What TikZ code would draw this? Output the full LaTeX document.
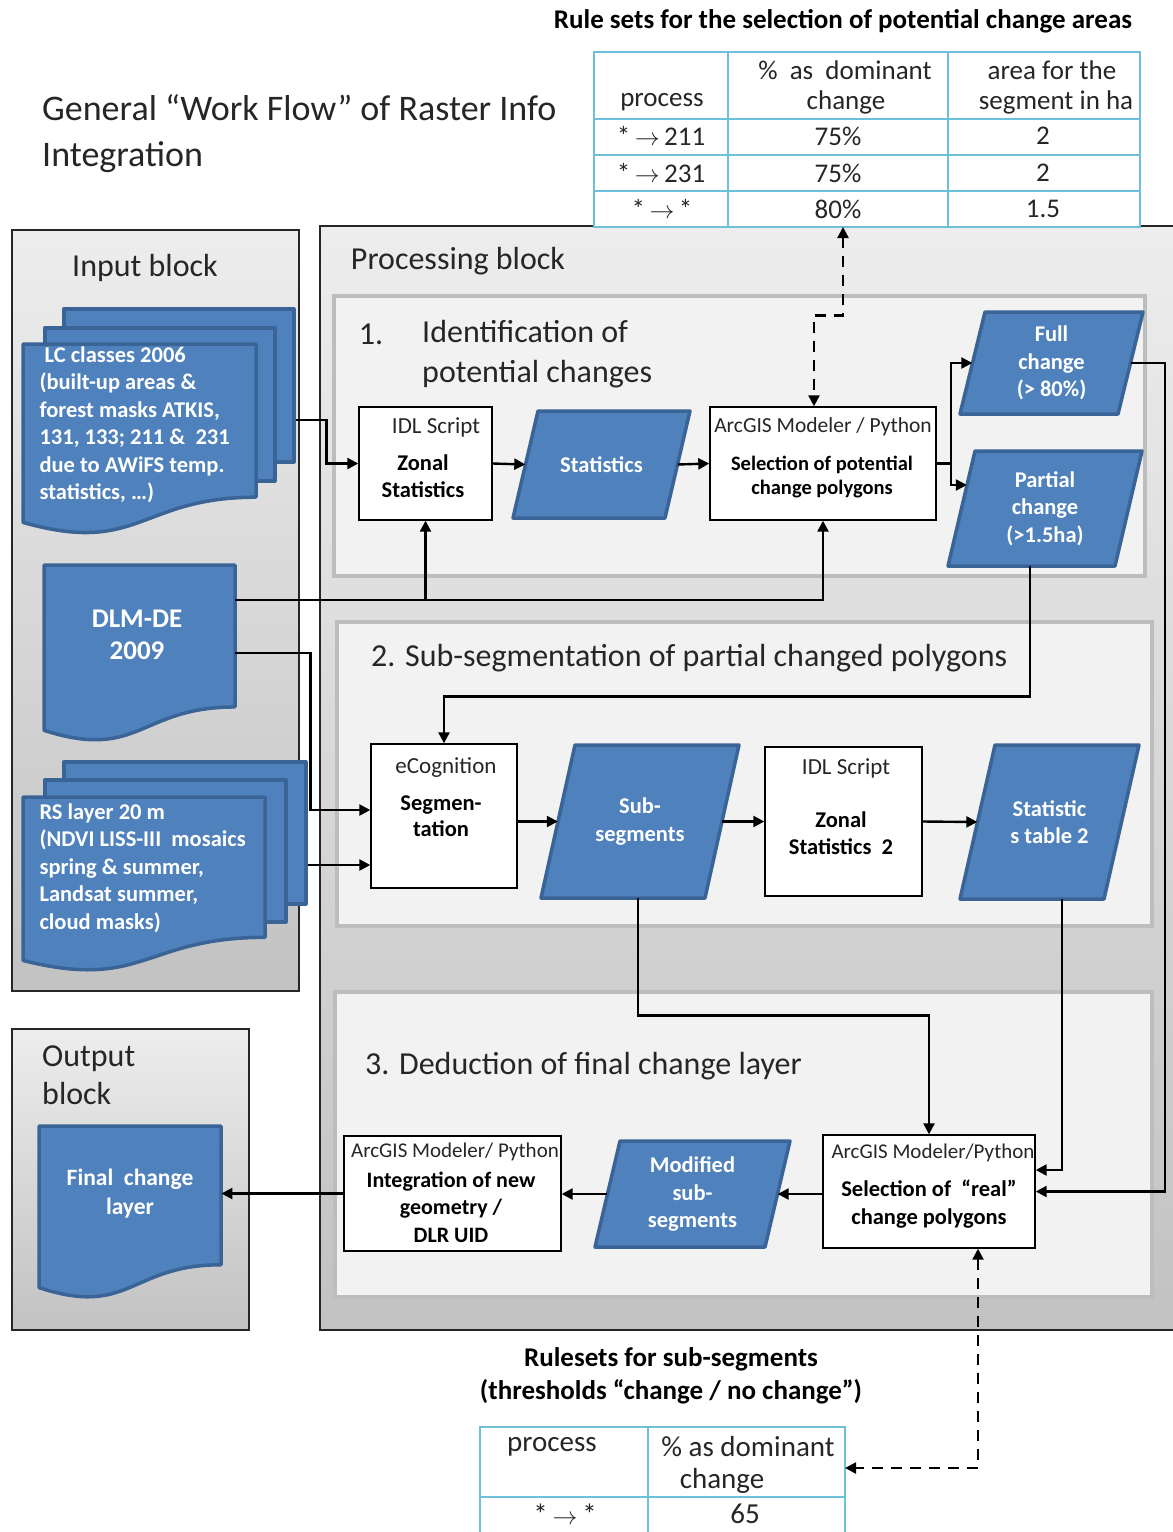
\documentclass[tikz,border=0pt]{standalone}
\usepackage{fontspec}
\setmainfont{Carlito}
\usetikzlibrary{arrows.meta,calc}
\definecolor{blueF}{HTML}{4F81BD}
\definecolor{blueD}{HTML}{3A6496}
\definecolor{tabc}{HTML}{6CC0DA}
\definecolor{panelF}{HTML}{F2F2F2}
\definecolor{panelD}{HTML}{BDBDBD}
\definecolor{txtk}{HTML}{262626}
\tikzset{
  blockbg/.style={draw=black!85, line width=1.6pt, top color=gray!14, bottom color=gray!48},
  panel/.style={fill=panelF, draw=panelD, line width=3.5pt},
  blueshape/.style={fill=blueF, draw=blueD, line width=3.5pt, line join=round},
  wbox/.style={draw=black, fill=white, line width=1.4pt, inner sep=0pt},
  conn/.style={draw=black, line width=2.4pt, -{Triangle[length=11pt,width=11pt]}},
  dashconn/.style={draw=black, line width=2.4pt, dash pattern=on 11pt off 8pt,
     {Triangle[length=11pt,width=11pt]}-{Triangle[length=11pt,width=11pt]}},
  tabline/.style={draw=tabc, line width=2pt},
  wtxt/.style={text=white, font=\bfseries\fontsize{22.5}{27.5}\selectfont, align=center},
  ktxt/.style={text=txtk, align=center, font=\fontsize{23}{26}\selectfont, inner sep=0pt},
  kbold/.style={text=black, align=center, font=\bfseries\fontsize{22.5}{27}\selectfont, inner sep=0pt},
  tabtxt/.style={text=txtk, font=\fontsize{27}{30}\selectfont, inner sep=0pt},
  bigtxt/.style={text=txtk, font=\fontsize{32}{40}\selectfont, inner sep=0pt, align=left},
}
\newcommand{\paral}[7]{%
  \draw[blueshape] ({#2-#4/2+#6},{#3-#5/2}) -- ({#2+#4/2+#6},{#3-#5/2}) -- ({#2+#4/2-#6},{#3+#5/2}) -- ({#2-#4/2-#6},{#3+#5/2}) -- cycle;
  \node[wtxt, minimum width=#4pt, minimum height=#5pt, inner sep=0pt] (#1) at (#2,#3) {#7};
}
\newcommand{\docsh}[5]{%
  \draw[blueshape] (#2,#3) -- (#4,#3) -- (#4,{#3+0.802*#5}) .. controls ({(#2+#4)/2},{#3+0.802*#5}) and ({(#2+#4)/2},{#3+1.107*#5}) .. (#2,{#3+0.934*#5}) -- cycle;
  \node[minimum width={#4-#2}, minimum height={0.8*#5}, inner sep=0pt, anchor=north west] (#1) at (#2,#3) {};
}
\begin{document}
\begin{tikzpicture}[x=1pt,y=-1pt]
\useasboundingbox (0,0) rectangle (1173,1532);
\clip (0,0) rectangle (1173,1532);
\fill[white] (0,0) rectangle (1173,1532);

% blocks
\draw[blockbg] (12,230) rectangle (299,991);
\draw[blockbg] (320,226) rectangle (1190,1330);
\draw[blockbg] (12,1029) rectangle (249,1330);

% panels
\draw[panel] (334,296) rectangle (1145,576);
\draw[panel] (337,622) rectangle (1152,926);
\draw[panel] (335,992) rectangle (1152,1297);

% title
\node[anchor=west, text=txtk, align=left, font=\fontsize{36}{46}\selectfont, inner sep=0pt] (title) at (42,134) {General “Work Flow” of Raster Info\\Integration};

% table 1
\node[text=black, font=\bfseries\fontsize{27}{30}\selectfont, inner sep=0pt] (t1title) at (843,21) {Rule sets for the selection of potential change areas};
\fill[white] (594,52) rectangle (1140,227);
\draw[tabline] (594,52) rectangle (1140,227);
\draw[tabline] (728,52) -- (728,227) (948,52) -- (948,227)
  (594,119) -- (1140,119) (594,155) -- (1140,155) (594,191) -- (1140,191);
\node[tabtxt] (h1) at (662,102) {process};
\node[tabtxt] (h2) at (845,70) {\%\ \ as\ \ dominant};
\node[tabtxt] (h3) at (846,102) {change};
\node[tabtxt] (h4) at (1052,70) {area for the};
\node[tabtxt] (h5) at (1056,102) {segment in ha};
\node[tabtxt] (r1a) at (661,136) {*\,$\rightarrow$\,211};
\node[tabtxt] (r1b) at (838,136) {75\%};
\node[tabtxt] (r1c) at (1043,136) {2};
\node[tabtxt] (r2a) at (661,173) {*\,$\rightarrow$\,231};
\node[tabtxt] (r2b) at (838,173) {75\%};
\node[tabtxt] (r2c) at (1043,173) {2};
\node[tabtxt] (r3a) at (662,209) {*\,$\rightarrow$\,*};
\node[tabtxt] (r3b) at (838,209) {80\%};
\node[tabtxt] (r3c) at (1043,209) {1.5};
\coordinate (tab1) at (843,227);

% block labels
\node[bigtxt] (inlbl) at (145,268) {Input block};
\node[bigtxt] (prlbl) at (458,261) {Processing block};
\node[bigtxt, anchor=west, font=\fontsize{32}{38}\selectfont] (outlbl) at (42,1075) {Output\\block};

% panel titles
\node[bigtxt] (p1n) at (371,334) {1.};
\node[bigtxt, anchor=west] (p1t) at (422,354) {Identification of\\potential changes};
\node[bigtxt, anchor=west] (p2t) at (371,658) {2. Sub-segmentation of partial changed polygons};
\node[bigtxt, anchor=west] (p3t) at (365,1066) {3. Deduction of final change layer};

% input documents
\node[blueshape, minimum width=230pt, minimum height=153pt, anchor=north west, inner sep=0pt] (lcback) at (62,307) {};
\node[blueshape, minimum width=230pt, minimum height=153pt, anchor=north west, inner sep=0pt] (lcmid) at (43,326) {};
\docsh{lcfront}{23}{344}{256}{191}
\node[wtxt, anchor=west, align=left] (lctext) at (36,425) {\ LC classes 2006\\(built-up areas \&\\forest masks ATKIS,\\131, 133; 211 \&\ \ 231\\due to AWiFS temp.\\statistics, …)};

\docsh{dlm}{44}{565}{235}{177}
\node[wtxt, font=\bfseries\fontsize{27}{32}\selectfont] (dlmtext) at (137,635) {DLM-DE\\2009};

\node[blueshape, minimum width=242pt, minimum height=142pt, anchor=north west, inner sep=0pt] (rsback) at (62,760) {};
\node[blueshape, minimum width=241pt, minimum height=142pt, anchor=north west, inner sep=0pt] (rsmid) at (43,778) {};
\docsh{rsfront}{23}{797}{265}{175}
\node[wtxt, anchor=west, align=left] (rstext) at (36,868) {RS layer 20 m\\(NDVI LISS-III\ \ mosaics\\spring \& summer,\\Landsat summer,\\cloud masks)};

\docsh{final}{39}{1126}{221}{173}
\node[wtxt, font=\bfseries\fontsize{23.5}{29}\selectfont] (finaltext) at (130,1194) {Final\ \ change\\layer};

% white process boxes
\node[wbox, minimum width=133pt, minimum height=113pt] (idl1) at (425.5,463.5) {};
\node[ktxt] (idl1a) at (436,427) {IDL Script};
\node[kbold] (idl1b) at (423,476) {Zonal\\Statistics};

\node[wbox, minimum width=226pt, minimum height=113pt] (arc1) at (823,463.5) {};
\node[ktxt, font=\fontsize{21.5}{26}\selectfont] (arc1a) at (823,427) {ArcGIS Modeler / Python};
\node[kbold, font=\bfseries\fontsize{20.5}{24}\selectfont] (arc1b) at (822,477) {Selection of potential\\change polygons};

\node[wbox, minimum width=146pt, minimum height=144pt] (ecog) at (444,816) {};
\node[ktxt] (ecoga) at (446,768) {eCognition};
\node[kbold, font=\bfseries\fontsize{22.5}{26}\selectfont] (ecogb) at (441,816) {Segmen-\\tation};

\node[wbox, minimum width=157pt, minimum height=149pt] (idl2) at (843.5,821.5) {};
\node[ktxt] (idl2a) at (846,768) {IDL Script};
\node[kbold] (idl2b) at (841,833) {Zonal\\Statistics\ \ 2};

\node[wbox, minimum width=217pt, minimum height=115pt] (integ) at (452.5,1193.5) {};
\node[ktxt, font=\fontsize{21}{24}\selectfont] (intega) at (455,1152) {ArcGIS Modeler/ Python};
\node[kbold, font=\bfseries\fontsize{22}{27.5}\selectfont] (integb) at (451,1207) {Integration of new\\geometry /\\DLR UID};

\node[wbox, minimum width=212pt, minimum height=113pt] (selreal) at (929,1191.5) {};
\node[ktxt, font=\fontsize{21}{26}\selectfont] (selreala) at (933,1153) {ArcGIS Modeler/Python};
\node[kbold, font=\bfseries\fontsize{22.5}{28}\selectfont] (selrealb) at (929,1204) {Selection of\ \ “real”\\change polygons};

% blue parallelograms
\paral{stats}{601.5}{464.5}{152}{107}{12.5}{Statistics}
\paral{full}{1051.5}{363}{158}{102}{12.5}{Full\\change\\(> 80\%)}
\paral{partial}{1045}{508.5}{167}{115}{13.5}{Partial\\change\\(>1.5ha)}
\paral{subseg}{640}{821.5}{164}{153}{17}{Sub-\\segments}
\paral{stat2}{1049.5}{822}{144}{154}{17.5}{Statistic\\s table 2}
\paral{modif}{692.5}{1194}{170}{106}{12.5}{Modified\\sub-\\segments}

% connectors
\draw[conn] ($(lcback.north east)+(0,113)$) -- ++(31,0) |- (idl1.west);
\draw[conn] (idl1.east) -- (stats.west);
\draw[conn] (stats.east) -- (arc1.west);
\draw[conn] (arc1.east) -- ++(14,0) |- (full.west);
\draw[conn] (arc1.east) -- ++(14,0) |- ($(partial.west)+(5.5,-23.5)$);
\draw[conn] ($(dlm.north east)+(0,35)$) -| (arc1.south);
\draw[conn] (idl1.south |- {$(dlm.north east)+(0,35)$}) -- (idl1.south);
\draw[conn] ($(dlm.north east)+(0,88)$) -- ++(75,0) |- ([yshift=6pt]ecog.west);
\draw[conn] ($(rsback.north east)+(0,105)$) -- ([yshift=-49pt]ecog.west);
\draw[conn] ($(partial.south)+(-15,0)$) |- ($(ecog.north)+(0,-47)$) -- (ecog.north);
\draw[conn] (ecog.east |- subseg.west) -- (subseg.west);
\draw[conn] (subseg.east) -- (idl2.west);
\draw[conn] (idl2.east) -- (stat2.west);
\draw[conn] (full.east) -- ++(34.5,0) |- (selreal.east);
\draw[conn] ($(stat2.south)+(12.5,0)$) |- ([yshift=21.5pt]selreal.east);
\draw[conn] ($(subseg.south)+(-2,0)$) |- ($(selreal.north)+(0,-119)$) -- (selreal.north);
\draw[conn] (selreal.west |- modif.east) -- (modif.east);
\draw[conn] (modif.west) -- (integ.east |- modif.west);
\draw[conn] (integ.west) -- (integ.west -| final.east);

% table 2
\node[text=black, align=center, font=\bfseries\fontsize{27}{33}\selectfont, inner sep=0pt] (t2title) at (671,1376) {Rulesets for sub-segments\\(thresholds “change / no change”)};
\fill[white] (480,1427) rectangle (845,1545);
\draw[tabline] (480,1427) rectangle (845,1545);
\draw[tabline] (648,1427) -- (648,1545) (480,1497) -- (845,1497);
\node[tabtxt, font=\fontsize{29}{30}\selectfont] (q1) at (552,1447) {process};
\node[tabtxt, font=\fontsize{29}{30}\selectfont] (q2) at (748,1447) {\% as dominant};
\node[tabtxt, font=\fontsize{29}{30}\selectfont] (q3) at (722,1481) {change};
\node[tabtxt, font=\fontsize{29}{30}\selectfont] (q4) at (565,1514) {*\,$\rightarrow$\,*};
\node[tabtxt, font=\fontsize{29}{30}\selectfont] (q5) at (745,1514) {65};
\coordinate (tab2) at (845,1468);

% dashed links
\draw[dashconn] (tab1) |- ([xshift=-9pt,yshift=91pt]arc1.north) -- ([xshift=-9pt]arc1.north);
\draw[dashconn] ([xshift=49pt]selreal.south) |- (tab2);
\end{tikzpicture}
\end{document}
